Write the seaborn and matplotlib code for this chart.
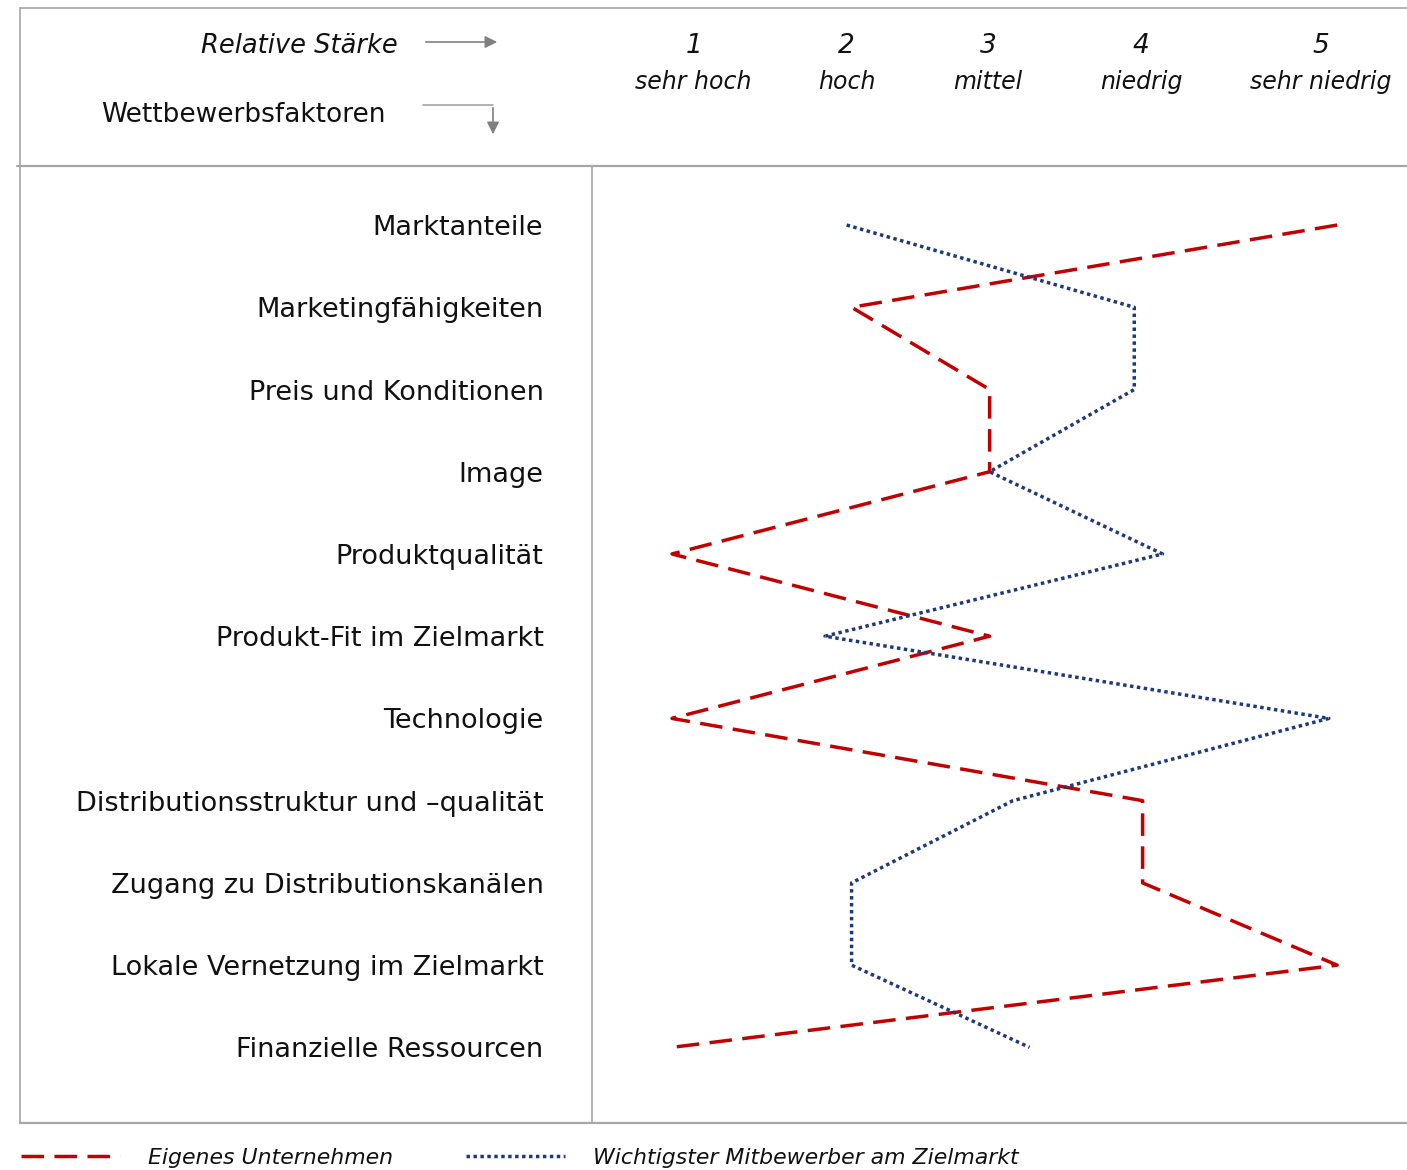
import numpy as np
import pandas as pd
import seaborn as sns
import matplotlib.pyplot as plt
import matplotlib.transforms as mtransforms
from matplotlib.lines import Line2D
from matplotlib.patches import FancyArrowPatch

# Wettbewerbsfaktoren (von oben nach unten)
factors = [
    "Marktanteile",
    "Marketingfähigkeiten",
    "Preis und Konditionen",
    "Image",
    "Produktqualität",
    "Produkt-Fit im Zielmarkt",
    "Technologie",
    "Distributionsstruktur und –qualität",
    "Zugang zu Distributionskanälen",
    "Lokale Vernetzung im Zielmarkt",
    "Finanzielle Ressourcen",
]
# Relative Stärke: 1 = sehr hoch ... 5 = sehr niedrig
scale_values = [1, 2, 3, 4, 5]
scale_labels = ["sehr hoch", "hoch", "mittel", "niedrig", "sehr niedrig"]

own_label = "Eigenes Unternehmen"
rival_label = "Wichtigster Mitbewerber am Zielmarkt"
own_values = [5.0, 2.08, 2.91, 2.91, 1.0, 2.91, 1.0, 3.83, 3.83, 5.0, 1.0]
rival_values = [2.05, 3.78, 3.78, 2.91, 3.95, 1.92, 4.95, 3.05, 2.08, 2.08, 3.15]

# where the header labels sit in the original (in scale units)
header_x = [1.13, 2.05, 2.90, 3.82, 4.90]

red = "#C00000"
blue = "#1F3A78"
grey = "#A6A6A6"
ink = "#111111"

sns.set_theme(style="white")
plt.rcParams["font.family"] = ["DejaVu Sans"]

W, H = 1407, 1170
fig = plt.figure(figsize=(W / 100, H / 100), dpi=100)
ax = fig.add_axes([592 / W, 1 - 1123 / H, (1407 - 592) / W, (1123 - 166) / H])

n = len(factors)
df = pd.DataFrame(
    {
        "pos": np.tile(np.arange(n), 2),
        "value": own_values + rival_values,
        "series": [own_label] * n + [rival_label] * n,
    }
)

sns.lineplot(
    data=df,
    x="value",
    y="pos",
    hue="series",
    style="series",
    palette={own_label: red, rival_label: blue},
    dashes={own_label: (6.5, 3), rival_label: (1, 1)},
    sort=False,
    estimator=None,
    orient="y",
    linewidth=2.5,
    legend=False,
    ax=ax,
)

ax.set_xlim(0.519, 5.42)
ax.set_ylim(10.92, -0.718)
ax.set_xticks([])
ax.set_yticks(range(n), factors)
ax.set_xlabel("")
ax.set_ylabel("")
ax.tick_params(axis="y", length=0, pad=35, labelsize=19.5, colors=ink)
for side in ["top", "right", "bottom"]:
    ax.spines[side].set_visible(False)
ax.spines["left"].set_color(grey)
ax.spines["left"].set_linewidth(1.2)


def fline(x0, y0, x1, y1, lw=1.2):
    fig.add_artist(
        Line2D([x0 / W, x1 / W], [1 - y0 / H, 1 - y1 / H], color=grey, lw=lw)
    )


# Rahmen
fline(20, 8, 1407, 8)
fline(20, 8, 20, 1123)
fline(17, 166, 1407, 166, lw=1.6)
fline(20, 1123, 1407, 1123, lw=1.6)

# Kopfzeile
fig.text(398 / W, 1 - 46 / H, "Relative Stärke", ha="right", va="center",
         style="italic", size=18.5, color=ink)
fig.text(386 / W, 1 - 115 / H, "Wettbewerbsfaktoren", ha="right", va="center",
         size=19, color=ink)
fig.add_artist(FancyArrowPatch((423 / W, 1 - 42 / H), (500 / W, 1 - 42 / H),
                               transform=fig.transFigure, arrowstyle="-|>",
                               mutation_scale=18, color="grey", lw=1.2))
fline(423, 105, 493, 105)
fig.add_artist(FancyArrowPatch((493 / W, 1 - 105 / H), (493 / W, 1 - 137 / H),
                               transform=fig.transFigure, arrowstyle="-|>",
                               mutation_scale=18, color="grey", lw=1.2))

trans = mtransforms.blended_transform_factory(ax.transData, fig.transFigure)
for hx, v, lab in zip(header_x, scale_values, scale_labels):
    ax.text(hx, 1 - 46 / H, str(v), transform=trans, ha="center", va="center",
            style="italic", size=19, color=ink)
    ax.text(hx, 1 - 82 / H, lab, transform=trans, ha="center", va="center",
            style="italic", size=17, color=ink)

# Legende
handles = [
    Line2D([], [], color=red, lw=2.5, dashes=(6.5, 3)),
    Line2D([], [], color=blue, lw=2.5, dashes=(1, 1)),
]
leg = fig.legend(
    handles,
    [own_label, rival_label],
    loc="center left",
    bbox_to_anchor=(10 / W, 1 - 1158 / H),
    ncol=2,
    frameon=False,
    borderpad=0,
    handlelength=4.5,
    handletextpad=1.3,
    columnspacing=3.3,
    prop={"style": "italic", "size": 15.8},
)
for t in leg.get_texts():
    t.set_color(ink)

fig.savefig("out.png", dpi=100)
